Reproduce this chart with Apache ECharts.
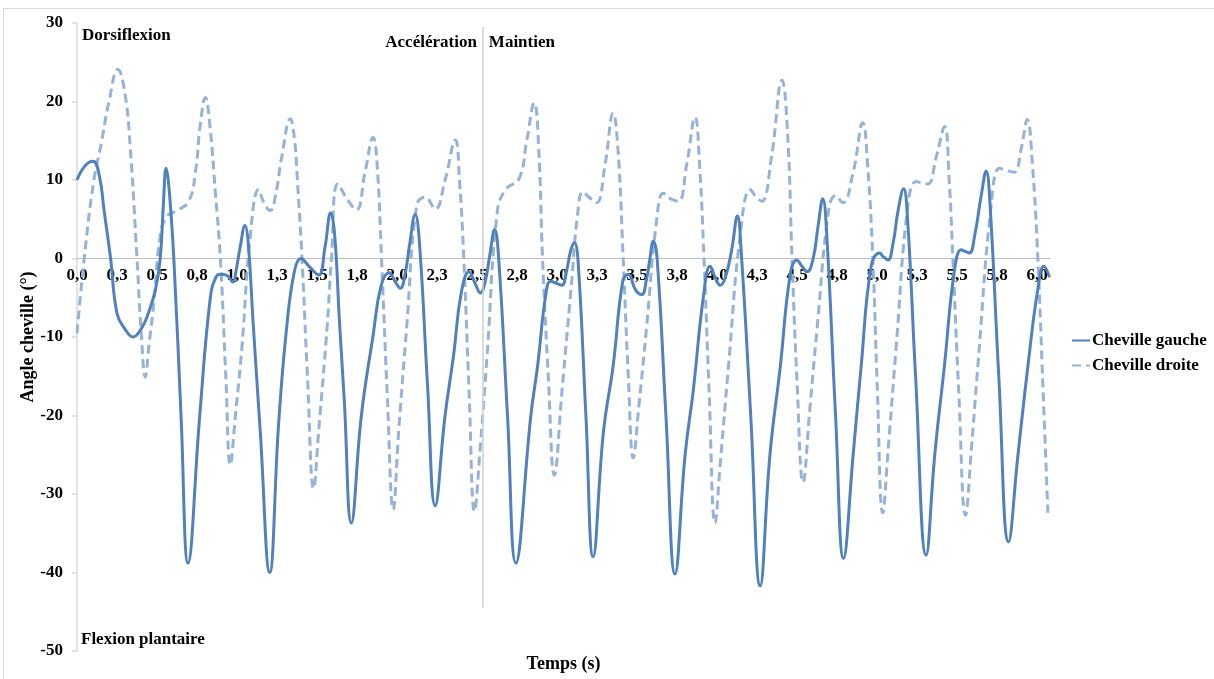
<!DOCTYPE html>
<html>
<head>
<meta charset="utf-8">
<script src="https://cdn.jsdelivr.net/npm/echarts@6/dist/echarts.min.js"></script>
<style>
  html, body { margin: 0; padding: 0; background: #ffffff; }
  #chart { width: 1214px; height: 679px; }
</style>
</head>
<body>
<div id="chart"></div>
<script>
// ---- Data ----
const timeTickLabels = ['0,0','0,3','0,5','0,8','1,0','1,3','1,5','1,8','2,0','2,3','2,5','2,8',
  '3,0','3,3','3,5','3,8','4,0','4,3','4,5','4,8','5,0','5,3','5,5','5,8','6,0'];
const yTicks = [-50, -40, -30, -20, -10, 0, 10, 20, 30];
const seriesNames = ['Cheville gauche', 'Cheville droite'];
const phaseBoundary = 2.536; // s, Accélération | Maintien

// Cheville gauche [time (s), angle (°)]
const chevilleGauche = [
  [0.00,10],[0.05,11.8],[0.10,12.4],[0.14,10.5],[0.17,6],[0.21,0],[0.25,-7],[0.30,-9],[0.35,-10],
  [0.40,-9],[0.44,-7.3],[0.49,-4],[0.52,0],[0.54,7],[0.557,11.5],[0.575,9],[0.605,0],[0.65,-20],
  [0.694,-38.8],[0.767,-20],[0.833,-5],[0.87,-2.3],[0.90,-2],[0.94,-2.2],[0.975,-3],[0.99,-2],
  [1.02,1.5],[1.05,4.2],[1.07,2],[1.10,-8],[1.145,-22],[1.204,-40],[1.26,-21],[1.31,-8.8],
  [1.36,-1.5],[1.40,0],[1.45,-1],[1.51,-2.1],[1.55,1.5],[1.585,5.8],[1.61,3],[1.64,-8],
  [1.67,-18],[1.714,-33.7],[1.777,-20],[1.85,-9.8],[1.90,-3.5],[1.95,-1.8],[1.99,-3],[2.02,-3.8],
  [2.05,-2],[2.08,2],[2.113,5.6],[2.14,2],[2.19,-16],[2.238,-31.5],[2.30,-20],[2.354,-12.2],
  [2.40,-4.5],[2.45,-1.7],[2.49,-3.3],[2.52,-4.4],[2.55,-3],[2.58,0.5],[2.61,3.7],[2.635,0],
  [2.69,-20],[2.742,-38.8],[2.836,-20],[2.878,-13.7],[2.93,-4.5],[2.96,-2.9],[3.00,-3.2],
  [3.03,-3.4],[3.06,-1.5],[3.085,1],[3.108,2.0],[3.13,0],[3.18,-20],[3.225,-38],[3.29,-22],
  [3.35,-13.7],[3.41,-2.9],[3.444,-2],[3.49,-4],[3.528,-4.6],[3.56,-2.5],[3.58,0],[3.601,2.2],
  [3.625,0],[3.68,-20],[3.737,-40.2],[3.80,-25],[3.852,-16.6],[3.914,-4.9],[3.956,-1],[3.99,-2.5],
  [4.019,-3.4],[4.05,-2.5],[4.09,1],[4.127,5.4],[4.15,1],[4.21,-20],[4.269,-41.7],[4.33,-25],
  [4.395,-13.7],[4.457,-2],[4.499,-0.2],[4.53,-1],[4.562,-1.7],[4.60,0],[4.63,4],[4.66,7.6],
  [4.685,3],[4.74,-20],[4.79,-38.2],[4.85,-25],[4.90,-13.7],[4.9625,-1],[5.015,0.7],[5.04,0.2],
  [5.067,-0.2],[5.10,2],[5.13,6],[5.165,8.9],[5.19,5],[5.24,-15],[5.306,-37.8],[5.36,-25],
  [5.42,-13.7],[5.483,-1.5],[5.525,1.1],[5.55,0.9],[5.577,0.7],[5.61,3],[5.65,8],[5.681,11.1],
  [5.705,7],[5.76,-15],[5.821,-36.1],[5.88,-25],[5.942,-13.7],[6.004,-3.9],[6.042,-1.0],[6.077,-2.4]
];

// Cheville droite [time (s), angle (°)]
const chevilleDroite = [
  [0.00,-9.5],[0.045,0],[0.104,9.8],[0.15,14.5],[0.20,20],[0.255,24.1],[0.30,21],[0.333,14],
  [0.375,0],[0.40,-9],[0.427,-15.1],[0.45,-11],[0.479,-5.9],[0.52,2.9],[0.5625,5.4],[0.625,6.1],
  [0.698,7.3],[0.74,11],[0.77,17],[0.802,20.5],[0.83,17],[0.865,8.3],[0.896,0],[0.93,-15],
  [0.958,-26.3],[0.99,-20],[1.031,-11.2],[1.083,2.9],[1.135,8.8],[1.17,7],[1.208,6.1],[1.24,8],
  [1.28,13],[1.333,17.8],[1.36,15],[1.375,10.7],[1.406,0],[1.44,-15],[1.479,-29.3],[1.51,-22],
  [1.5625,-8.8],[1.59,0],[1.63,9.5],[1.69,7.5],[1.746,6.2],[1.80,11],[1.85,15.4],[1.875,12],
  [1.903,0],[1.94,-18],[1.976,-32],[2.01,-22],[2.06,-8.8],[2.123,6.8],[2.176,7.8],[2.238,6.3],
  [2.30,10],[2.364,15.1],[2.39,10],[2.417,0],[2.45,-17],[2.484,-32.2],[2.52,-24],[2.563,-12.2],
  [2.626,5.9],[2.679,8.8],[2.763,10.2],[2.81,15],[2.857,19.8],[2.885,14],[2.909,0],[2.945,-15],
  [2.983,-27.6],[3.03,-17],[3.087,-3.9],[3.13,6],[3.161,8.5],[3.20,7.8],[3.246,7.1],[3.30,12],
  [3.35,18.5],[3.38,14],[3.413,0],[3.445,-15],[3.476,-25.4],[3.51,-19],[3.559,-8.8],[3.622,4.9],
  [3.664,8.3],[3.71,7.6],[3.758,7.3],[3.81,12],[3.862,18.0],[3.89,12],[3.918,0],[3.95,-17],
  [3.987,-33.7],[4.02,-26],[4.071,-13.7],[4.144,2.9],[4.207,8.8],[4.245,7.8],[4.28,7.3],[4.34,13],
  [4.405,22.7],[4.44,16],[4.468,0],[4.50,-16],[4.537,-28.5],[4.58,-19],[4.625,-8.8],[4.698,6.3],
  [4.74,8.0],[4.785,7.1],[4.85,11],[4.91,17.3],[4.94,12],[4.973,0],[5.00,-16],[5.035,-32.4],
  [5.07,-24],[5.119,-11.2],[5.192,6.8],[5.244,9.8],[5.28,9.6],[5.317,9.5],[5.37,13],[5.421,16.8],
  [5.45,10],[5.473,0],[5.51,-17],[5.552,-32.7],[5.59,-24],[5.629,-13.7],[5.7125,6.8],[5.765,11.5],
  [5.81,11.2],[5.858,11.0],[5.90,14],[5.9375,17.7],[5.97,12],[6.004,0],[6.035,-16],[6.067,-32.4]
];

// ---- Chart ----
const FONT = "'Liberation Serif', 'Times New Roman', serif";
const GRID = { left: 77, right: 164, top: 23, bottom: 28 };
const CHART_H = 679;
const yMin = yTicks[0], yMax = yTicks[yTicks.length - 1];
const gridH = CHART_H - GRID.top - GRID.bottom;
// the time axis sits on the 0° line: shift it up from the grid bottom
const xAxisOffset = -gridH * (0 - yMin) / (yMax - yMin);

const chart = echarts.init(document.getElementById('chart'), null, { renderer: 'canvas' });

const option = {
  animation: false,
  backgroundColor: '#ffffff',
  textStyle: { fontFamily: FONT },
  grid: Object.assign({ containLabel: false, outerBoundsMode: 'none' }, GRID),
  legend: {
    orient: 'vertical',
    left: 1066,
    top: 327,
    itemWidth: 18,
    itemHeight: 17,
    itemGap: 8,
    data: seriesNames,
    itemStyle: { opacity: 0 },
    textStyle: { fontFamily: FONT, fontWeight: 'bold', fontSize: 17, color: '#000', lineHeight: 17, padding: [0,0,0,-3] }
  },
  xAxis: {
    type: 'value',
    min: 0,
    max: 6.08,
    interval: 0.25,
    position: 'bottom',
    offset: xAxisOffset,
    name: 'Temps (s)',
    nameLocation: 'middle',
    nameGap: 397,
    nameMoveOverlap: false,
    nameTextStyle: { fontFamily: FONT, fontWeight: 'bold', fontSize: 18, color: '#000' },
    axisLine: { onZero: false, lineStyle: { color: '#bfbfbf', width: 1 } },
    axisTick: { show: false },
    splitLine: { show: false },
    axisLabel: {
      margin: 9,
      showMaxLabel: false,
      fontFamily: FONT, fontWeight: 'bold', fontSize: 17, color: '#000',
      formatter: function (v) {
        const idx = Math.round(v / 0.25);
        if (Math.abs(idx * 0.25 - v) > 1e-6) return '';
        return timeTickLabels[idx] !== undefined ? timeTickLabels[idx] : '';
      }
    }
  },
  yAxis: {
    type: 'value',
    min: yMin,
    max: yMax,
    interval: 10,
    name: 'Angle cheville (°)',
    nameLocation: 'middle',
    nameGap: 40,
    nameMoveOverlap: false,
    nameRotate: 90,
    nameTextStyle: { fontFamily: FONT, fontWeight: 'bold', fontSize: 18, color: '#000' },
    axisLine: { show: true, onZero: false, lineStyle: { color: '#d9d9d9', width: 1.5 } },
    axisTick: { show: true, inside: false, length: 5, lineStyle: { color: '#d9d9d9', width: 1.5 } },
    splitLine: { show: false },
    axisLabel: { margin: 14, fontFamily: FONT, fontWeight: 'bold', fontSize: 17, color: '#000' }
  },
  series: [
    {
      name: seriesNames[0],
      type: 'line',
      data: chevilleGauche,
      smooth: 0.45,
      showSymbol: false,
      symbol: 'none',
      lineStyle: { color: '#4F81BD', width: 3 },
      itemStyle: { color: '#4F81BD' },
      z: 3,
      markLine: {
        silent: true,
        symbol: 'none',
        label: { show: false },
        lineStyle: { color: '#cfcfcf', width: 1.5, type: 'solid' },
        data: [[{ coord: [phaseBoundary, 29.5] }, { coord: [phaseBoundary, -44.5] }]]
      }
    },
    {
      name: seriesNames[1],
      type: 'line',
      data: chevilleDroite,
      smooth: 0.45,
      showSymbol: false,
      symbol: 'none',
      lineStyle: { color: '#95B3D7', width: 3, type: [9, 5] },
      itemStyle: { color: '#95B3D7' },
      z: 2
    }
  ]
};
chart.setOption(option);

// Annotations placed relative to the axes
const pTop = chart.convertToPixel({ gridIndex: 0 }, [0, yMax]);
const pBot = chart.convertToPixel({ gridIndex: 0 }, [0, yMin]);
const pPhase = chart.convertToPixel({ gridIndex: 0 }, [phaseBoundary, yMax]);
const txt = (text, x, y, align) => ({
  type: 'text', x: x, y: y, silent: true,
  style: { text: text, fill: '#000', font: 'bold 17px ' + FONT, textAlign: align, textVerticalAlign: 'middle' }
});
chart.setOption({
  graphic: [
    { type: 'rect', silent: true, shape: { x: 3.5, y: 8.5, width: 1400, height: 900 },
      style: { fill: 'none', stroke: '#d9d9d9', lineWidth: 1 } },
    txt('Dorsiflexion', pTop[0] + 5, pTop[1] + 13, 'left'),
    txt('Flexion plantaire', pBot[0] + 4, pBot[1] - 11, 'left'),
    txt('Accélération', pPhase[0] - 6, pPhase[1] + 20, 'right'),
    txt('Maintien', pPhase[0] + 6, pPhase[1] + 20, 'left')
  ]
});
</script>
</body>
</html>
